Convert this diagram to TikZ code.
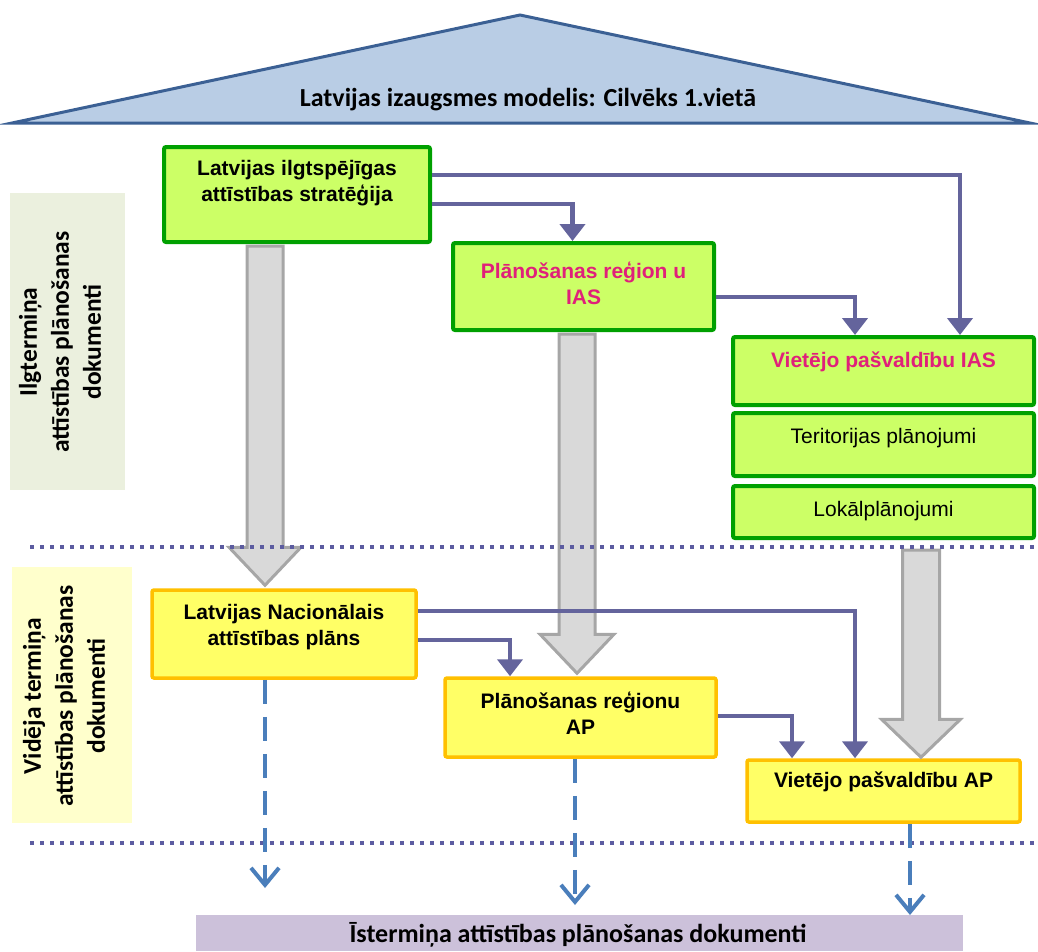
\documentclass[tikz,border=0pt]{standalone}
\usepackage{fontspec}
\setmainfont{Liberation Sans}
\newfontfamily\calfont{Carlito}
\usetikzlibrary{arrows.meta,calc}
\definecolor{trifill}{HTML}{B9CDE5}
\definecolor{tridraw}{HTML}{3B6094}
\definecolor{limefill}{HTML}{CCFF66}
\definecolor{boxgreen}{HTML}{00A000}
\definecolor{yelfill}{HTML}{FFFF66}
\definecolor{yeldraw}{HTML}{FFC000}
\definecolor{magtext}{HTML}{E0207A}
\definecolor{pconncol}{HTML}{64649C}
\definecolor{gfill}{HTML}{D9D9D9}
\definecolor{gdraw}{HTML}{A6A6A6}
\definecolor{bluecol}{HTML}{4A7EBB}
\definecolor{bandone}{HTML}{EBF0DE}
\definecolor{bandtwo}{HTML}{FFFFCC}
\definecolor{bandthree}{HTML}{CCC1DA}
\definecolor{dotcol}{HTML}{5C5CA0}
\tikzset{
  gbox/.style={draw=boxgreen, line width=4pt, fill=limefill, rounded corners=2pt, inner sep=0pt},
  ybox/.style={draw=yeldraw, line width=3.5pt, fill=yelfill, rounded corners=2pt, inner sep=0pt},
  btext/.style={font=\fontsize{21}{26}\selectfont\bfseries, align=center, inner sep=0pt},
  rtext/.style={font=\fontsize{21}{26}\selectfont, align=center, inner sep=0pt},
  ctext/.style={font=\calfont\fontsize{26}{32}\selectfont\bfseries, align=center, inner sep=0pt},
  stext/.style={font=\calfont\fontsize{25.5}{32}\selectfont\bfseries, align=center, inner sep=0pt},
  pconn/.style={draw=pconncol, line width=4.5pt, -{Triangle[width=25pt,length=17pt]}},
  bconn/.style={draw=bluecol, line width=4pt, dash pattern=on 24pt off 13pt, -{Straight Barb[width=28pt,length=17pt,line width=4pt]}},
  garrow/.style={draw=gdraw, fill=gfill, line width=3pt, line join=miter},
  dotline/.style={draw=dotcol, line width=4pt, dash pattern=on 4pt off 6pt},
}
\newcommand\blockarrow[5]{% #1 top, #2 tip, #3 half shaft, #4 half head, #5 head length
  \draw[garrow] let \p1=(#1), \p2=(#2) in
    (\x1-#3,\y1) -- (\x1+#3,\y1) -- (\x1+#3,\y2+#5) -- (\x1+#4,\y2+#5) --
    (\x1,\y2) -- (\x1-#4,\y2+#5) -- (\x1-#3,\y2+#5) -- cycle;}
\begin{document}
\begin{tikzpicture}[x=1pt,y=-1pt]
\useasboundingbox (0,0) rectangle (1038,951);
% bands
\fill[bandone] (10,193) rectangle (125,490);
\fill[bandtwo] (12,567) rectangle (132,823);
\fill[bandthree] (196,915) rectangle (963,951);
\node[stext, rotate=90] (ltone) at (60,342) {Ilgtermiņa\\attīstības plānošanas\\dokumenti};
\node[stext, rotate=90] (lttwo) at (64,696) {Vidēja termiņa\\attīstības plānošanas\\dokumenti};
\node[ctext] (short) at (578,935) {Īstermiņa attīstības plānošanas dokumenti};
% roof
\draw[tridraw, fill=trifill, line width=3pt, line join=miter] (12,123) -- (520,15) -- (1030,123) -- cycle;
\node[ctext] (roof) at (528,100) {Latvijas izaugsmes modelis: Cilvēks 1.vietā};
% green boxes
\node[gbox, minimum width=266pt, minimum height=95pt] (lis) at (297,194.5) {};
\node[btext] (lis-t) at (297,183) {Latvijas ilgtspējīgas\\attīstības stratēģija};
\node[gbox, minimum width=261pt, minimum height=87pt] (pr) at (583.5,286.5) {};
\node[btext, text=magtext] (pr-t) at (583.5,283) {Plānošanas reģion u\\IAS};
\node[gbox, minimum width=301pt, minimum height=68pt] (vias) at (883.5,371) {};
\node[btext, text=magtext] (vias-t) at (883.5,362) {Vietējo pašvaldību IAS};
\node[gbox, minimum width=301pt, minimum height=63pt] (ter) at (883.5,444.5) {};
\node[rtext] (ter-t) at (883.5,438) {Teritorijas plānojumi};
\node[gbox, minimum width=301pt, minimum height=52pt] (lok) at (883.5,512) {};
\node[rtext] (lok-t) at (883.5,511) {Lokālplānojumi};
% yellow boxes
\node[ybox, minimum width=264pt, minimum height=88pt] (lnap) at (284,634) {};
\node[btext] (lnap-t) at (284,627) {Latvijas Nacionālais\\attīstības plāns};
\node[ybox, minimum width=271pt, minimum height=79pt] (pra) at (580.5,717.5) {};
\node[btext] (pra-t) at (580.5,713) {Plānošanas reģionu\\AP};
\node[ybox, minimum width=273pt, minimum height=62pt] (vap) at (883.5,791) {};
\node[btext] (vap-t) at (883.5,782) {Vietējo pašvaldību AP};
% gray block arrows
\blockarrow{[xshift=-32pt,yshift=-2pt]lis.south}{[xshift=-19pt,yshift=3pt]lnap.north}{18pt}{36pt}{38pt}
\blockarrow{[xshift=-6.5pt,yshift=-2pt]pr.south}{[xshift=-3.5pt,yshift=3pt]pra.north}{18pt}{37pt}{39pt}
\blockarrow{[xshift=37.5pt,yshift=-10pt]lok.south}{[xshift=37.5pt,yshift=1pt]vap.north}{18.5pt}{39.5pt}{38pt}
% dotted separators
\coordinate (dlA) at (30,547);
\coordinate (dlB) at (1038,547);
\coordinate (dlC) at (30,843);
\coordinate (dlD) at (1038,843);
\draw[dotline] (dlA) -- (dlB);
\draw[dotline] (dlC) -- (dlD);
% purple connectors
\draw[pconn] ([yshift=19.5pt]lis.east) -| ([xshift=76.5pt]vias.north);
\draw[pconn] ([yshift=-9.5pt]lis.east) -| ([xshift=-11pt]pr.north);
\draw[pconn] ([yshift=-10.5pt]pr.east) -| ([xshift=-28.5pt]vias.north);
\draw[pconn] ([yshift=23pt]lnap.east) -| ([xshift=-28.5pt]vap.north);
\draw[pconn] ([yshift=-6pt]lnap.east) -| ([xshift=-70.5pt]pra.north);
\draw[pconn] ([yshift=1.5pt]pra.east) -| ([xshift=-91.5pt]vap.north);
% blue dashed arrows
\coordinate (eA) at (265,888);
\coordinate (eB) at (575,905);
\coordinate (eC) at (910,915);
\draw[bconn] ([xshift=-19pt]lnap.south) -- (eA);
\draw[bconn] ([xshift=-5.5pt]pra.south) -- (eB);
\draw[bconn] ([xshift=26.5pt]vap.south) -- (eC);
\end{tikzpicture}
\end{document}
